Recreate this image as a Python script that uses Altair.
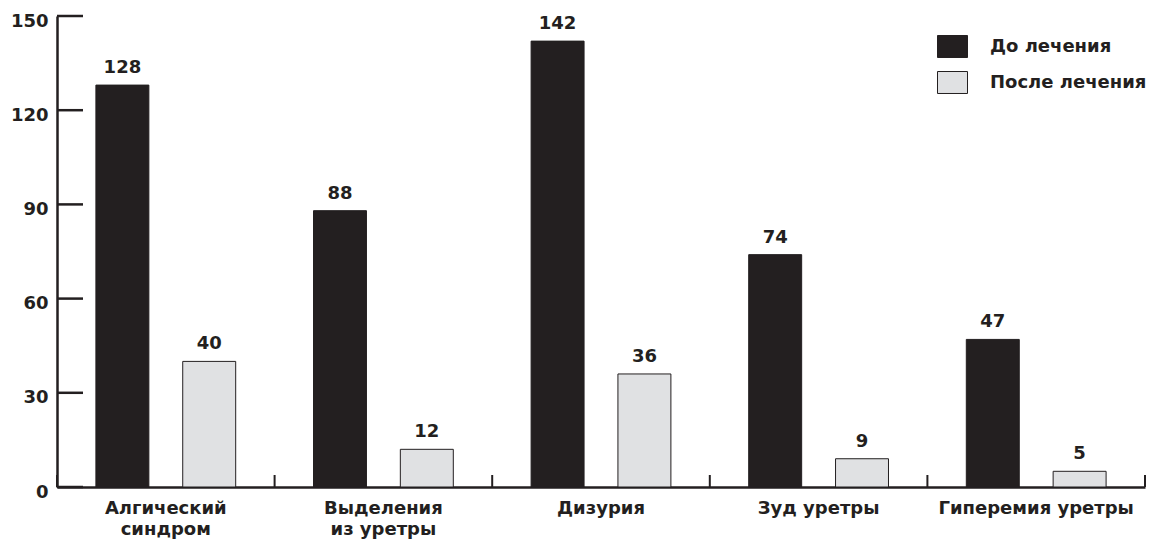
import altair as alt
import pandas as pd

categories = ["Алгический\nсиндром", "Выделения\nиз уретры", "Дизурия", "Зуд уретры", "Гиперемия уретры"]
series = ["До лечения", "После лечения"]
before = [128, 88, 142, 74, 47]
after = [40, 12, 36, 9, 5]
y_ticks = [0, 30, 60, 90, 120, 150]

rows = []
for c, b, a in zip(categories, before, after):
    rows.append({"cat": c, "series": series[0], "value": b})
    rows.append({"cat": c, "series": series[1], "value": a})
df = pd.DataFrame(rows)

W, H = 1088, 471
INK = "#231f20"
LIGHT = "#e0e1e3"
FONT = "DejaVu Sans"

xscale = alt.Scale(domain=categories, paddingInner=0, paddingOuter=0)
yscale = alt.Scale(domain=[0, 150], nice=False, zero=True)
offscale = alt.Scale(domain=series, paddingInner=0.39, paddingOuter=0.448)
cscale = alt.Scale(domain=series, range=[INK, LIGHT])

x_axis = alt.Axis(
    title=None, labelAngle=0, tickSize=0, domainWidth=2.5, domainColor=INK,
    labelFont=FONT, labelFontWeight="bold", labelFontSize=18, labelColor=INK,
    labelPadding=12, labelLineHeight=21, labelLimit=0,
    labelExpr="split(datum.label, '\\n')",
)
y_axis = alt.Axis(
    title=None, values=y_ticks, tickSize=0, domainWidth=2.5, domainColor=INK,
    labelFont=FONT, labelFontWeight="bold", labelFontSize=18, labelColor=INK,
    labelPadding=9, labelOffset=5, grid=False,
)
legend = alt.Legend(
    title=None, orient="none", legendX=880, legendY=15, padding=0,
    symbolType="M-1,-0.733H1V0.733H-1Z", symbolSize=900,
    symbolStrokeColor=INK, symbolStrokeWidth=1, symbolOpacity=1,
    labelFont=FONT, labelFontWeight="bold", labelFontSize=18, labelColor=INK,
    labelOffset=22, rowPadding=7, labelLimit=0,
)

base = alt.Chart(df)
bars = base.mark_bar(stroke=INK, strokeWidth=1).encode(
    x=alt.X("cat:N", scale=xscale, sort=categories, axis=x_axis),
    xOffset=alt.XOffset("series:N", scale=offscale, sort=series),
    y=alt.Y("value:Q", scale=yscale, axis=y_axis),
    color=alt.Color("series:N", scale=cscale, sort=series, legend=legend),
)
labels = base.mark_text(
    font=FONT, fontWeight="bold", fontSize=18, color=INK, baseline="alphabetic", dy=-12
).encode(
    x=alt.X("cat:N", scale=xscale, sort=categories),
    xOffset=alt.XOffset("series:N", scale=offscale, sort=series),
    y=alt.Y("value:Q", scale=yscale),
    text="value:Q",
)

ytick_df = pd.DataFrame({"v": y_ticks})
yticks = alt.Chart(ytick_df).mark_rule(color=INK, strokeWidth=2.5).encode(
    y=alt.Y("v:Q", scale=yscale),
    x=alt.value(0), x2=alt.value(26),
)
xtick_df = pd.DataFrame({"cat": categories})
xticks = alt.Chart(xtick_df).mark_rule(color=INK, strokeWidth=2).encode(
    x=alt.X("cat:N", scale=xscale, sort=categories, bandPosition=0),
    y=alt.value(H - 12), y2=alt.value(H),
)
endtick = alt.Chart(xtick_df.iloc[:1]).mark_rule(color=INK, strokeWidth=2).encode(
    x=alt.value(W), y=alt.value(H - 12), y2=alt.value(H),
)

chart = alt.layer(bars, labels, yticks, xticks, endtick).properties(
    width=W, height=H,
    autosize=alt.AutoSizeParams(type="none"),
    padding={"left": 57, "top": 16, "right": 5, "bottom": 53},
    background="white",
).configure_view(stroke=None)

chart.save("out.html", embed_options={"renderer": "svg", "actions": False})
